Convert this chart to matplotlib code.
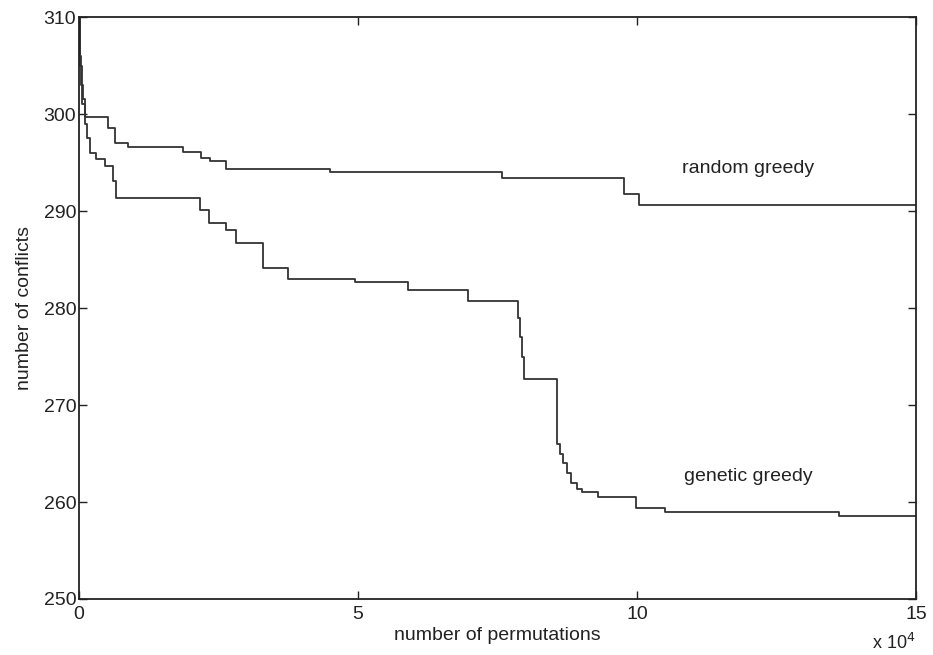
import matplotlib
matplotlib.use("Agg")
import matplotlib.pyplot as plt

# permutations in units of 1e4, conflicts after each improvement (step, post)
random_x = [0, 0.02, 0.04, 0.07, 0.10, 0.52, 0.64, 0.88, 1.87, 2.19, 2.35, 2.64,
            4.50, 7.58, 9.76, 10.03, 15.0]
random_y = [310, 306, 303, 301.5, 299.7, 298.6, 297.0, 296.6, 296.1, 295.5, 295.2, 294.3,
            294.0, 293.4, 291.8, 290.6, 290.6]

genetic_x = [0, 0.02, 0.05, 0.10, 0.15, 0.19, 0.30, 0.46, 0.61, 0.66, 2.17, 2.33,
             2.63, 2.81, 3.30, 3.75, 4.95, 5.90, 6.97, 7.86, 7.90, 7.94, 7.98, 8.02,
             8.57, 8.62, 8.68, 8.75, 8.82, 8.92, 9.02, 9.30, 9.99, 10.50, 13.62, 15.0]
genetic_y = [310, 305, 301, 299, 297.5, 296.0, 295.4, 294.6, 293.1, 291.3, 290.1, 288.8,
             288.0, 286.7, 284.1, 283.0, 282.7, 281.9, 280.7, 279.0, 277.0, 275.0, 272.7, 272.7,
             266.0, 265.0, 264.0, 263.0, 262.0, 261.3, 261.0, 260.5, 259.4, 259.0, 258.6, 258.6]

xticks = [0, 5, 10, 15]
yticks = [250, 260, 270, 280, 290, 300, 310]

plt.rcParams["font.family"] = ["Liberation Sans", "DejaVu Sans"]

fig = plt.figure(figsize=(9.33, 6.55), dpi=100)
ax = fig.add_axes([0.0847, 0.0855, 0.897, 0.8885])

line_c = "#333333"
ax.step(random_x, random_y, where="post", color=line_c, lw=1.3)
ax.step(genetic_x, genetic_y, where="post", color=line_c, lw=1.3)

ax.set_xlim(0, 15)
ax.set_ylim(250, 310)
ax.set_xticks(xticks)
ax.set_yticks(yticks)
ax.tick_params(direction="in", top=True, right=True, length=6, width=1,
               labelsize=14, colors="#222222")
ax.tick_params(axis="x", pad=5)
ax.tick_params(axis="y", pad=2)
for s in ax.spines.values():
    s.set_linewidth(1.3)
    s.set_color("#222222")

ax.text(12.0, 294.4, "random greedy", fontsize=14, ha="center", va="center", color="#222222")
ax.text(12.0, 262.6, "genetic greedy", fontsize=14, ha="center", va="center", color="#222222")

ax.set_xlabel("number of permutations", fontsize=14, labelpad=3, color="#222222")
ax.set_ylabel("number of conflicts", fontsize=14, labelpad=8, color="#222222")
fig.text(0.935, 0.003, r"x 10$^4$", fontsize=13, ha="left", va="bottom", color="#222222")

fig.savefig("out.png", dpi=100)
